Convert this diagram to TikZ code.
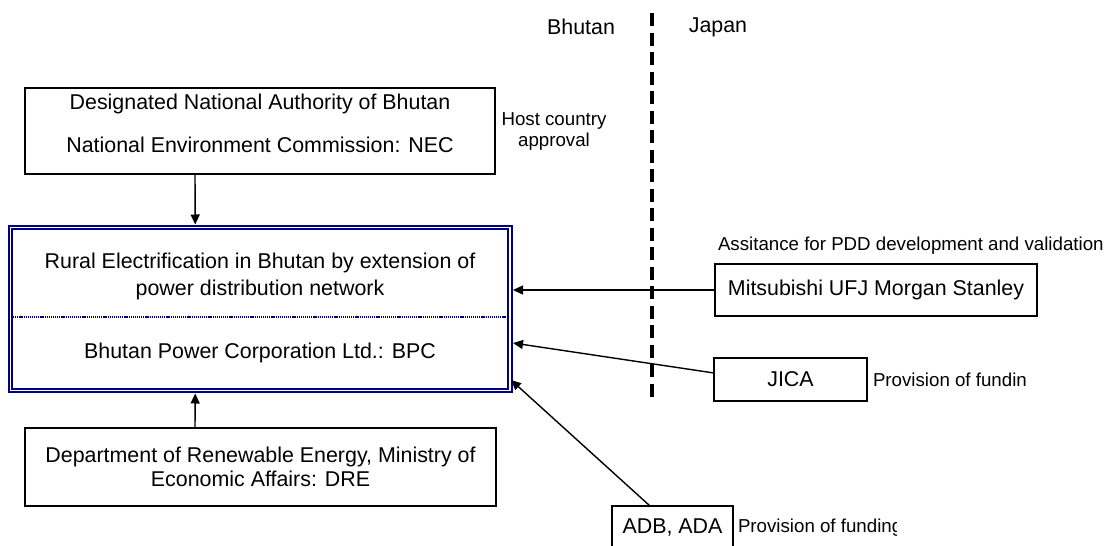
\documentclass[tikz,border=0pt]{standalone}
\usepackage{fontspec}
\setmainfont{Liberation Sans}
\usetikzlibrary{arrows.meta}
\definecolor{navyb}{RGB}{0,0,128}
\newcommand{\bigf}{\fontsize{21.4}{27}\selectfont}
\newcommand{\dref}{\fontsize{21.4}{24}\selectfont}
\newcommand{\smallf}{\fontsize{18.7}{21}\selectfont}
\tikzset{
  box/.style={draw=black, line width=2pt, inner sep=0pt, outer sep=0pt, fill=white},
  mainbox/.style={draw=navyb, double=white, line width=1.8pt, double distance=1.6pt, inner sep=0pt, outer sep=0pt},
  txt/.style={inner sep=0pt, outer sep=0pt, font=\bigf, align=center},
  stxt/.style={inner sep=0pt, outer sep=0pt, font=\smallf, align=center},
  arr/.style={line width=1.4pt, -{Triangle[length=10pt,width=9pt]}},
  divider/.style={line width=4pt, dash pattern=on 13pt off 6.5pt}
}
\begin{document}
\begin{tikzpicture}[x=1pt, y=-1pt]
\clip (0,0) rectangle (1120,546);
\fill[white] (0,0) rectangle (1120,546);

% country labels and divider
\node[txt] (bhutan) at (581,27) {Bhutan};
\node[txt] (japan) at (718,27) {Japan};
\coordinate (divtop) at (652,13);
\coordinate (divbot) at (652,402);
\draw[divider] (divtop) -- (divbot);

% top box
\node[box, minimum width=470pt, minimum height=86pt] (dna) at (260,131) {};
\node[txt] (dna1) at (260,104) {Designated National Authority of Bhutan};
\node[txt] (dna2) at (260,145) {National Environment Commission: NEC};
\node[stxt] (host) at (554,132) {Host country\\approval};

% main box
\node[mainbox, minimum width=499.5pt, minimum height=163pt] (main) at (260.25,309) {};
\node[txt] (proj) at (260,276.5) {Rural Electrification in Bhutan by extension of\\power distribution network};
\coordinate (dotl) at (13,317);
\coordinate (dotr) at (507,317);
\draw[navyb, line width=1.5pt, dash pattern=on 1.2pt off 0.9pt] (dotl) -- (dotr);
\node[txt] (bpc) at (260,353) {Bhutan Power Corporation Ltd.: BPC};

% DRE box
\node[box, minimum width=471pt, minimum height=78pt, inner sep=0pt, align=center, font=\dref] (dre) at (260.5,467) {Department of Renewable Energy, Ministry of\\Economic Affairs: DRE};

% right side boxes
\node[stxt, anchor=west] (assist) at (718,246) {Assitance for PDD development and validation};
\node[box, minimum width=322pt, minimum height=52pt, font=\bigf] (mufg) at (876,290) {Mitsubishi UFJ Morgan Stanley};
\node[box, minimum width=153pt, minimum height=43pt, font=\bigf] (jica) at (790.5,379.5) {JICA};
\node[stxt, anchor=west] (jicaprov) at (873,380) {Provision of fundin};
\node[box, minimum width=121pt, minimum height=64pt] (adb) at (672.5,538) {};
\node[txt] (adbtxt) at (672.5,528) {ADB, ADA};
\begin{scope}
\clip (736,505) rectangle (896,546);
\node[stxt, anchor=west] (adbprov) at (738,528) {Provision of funding};
\end{scope}

% connectors
\draw[arr, shorten >=3pt] ([xshift=-65pt]dna.south) -- ([xshift=-65pt]main.north);
\draw[arr, shorten >=3pt] ([xshift=-65.5pt]dre.north) -- ([xshift=-65pt]main.south);
\draw[arr] (mufg.west) -- ([xshift=3pt]mufg.west -| main.east);
\draw[arr] ([yshift=6.5pt]jica.west) -- ([xshift=3pt,yshift=-34pt]main.east);
\draw[arr] ([xshift=-22.5pt]adb.north) -- ([xshift=1pt,yshift=-71pt]main.east);
\end{tikzpicture}
\end{document}
